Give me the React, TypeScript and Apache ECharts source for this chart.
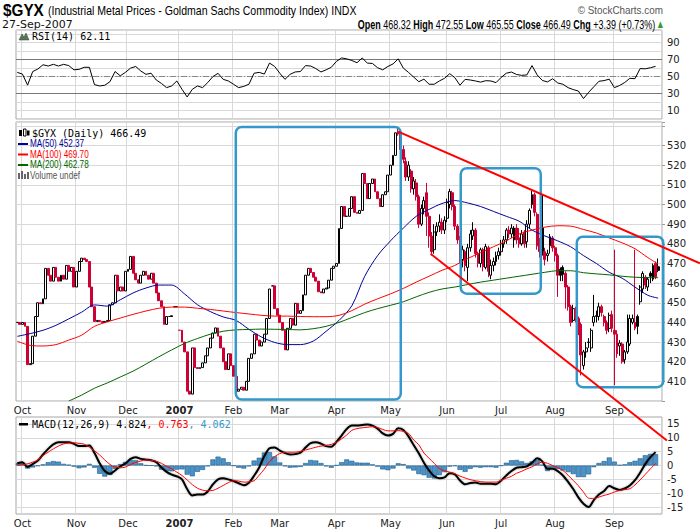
import React, { useEffect, useRef } from "react";
import * as echarts from "echarts";

// ---------------- calendar (trading days per month) ----------------
const MONTH_KEYS = ["2006-09", "2006-10", "2006-11", "2006-12", "2007-01", "2007-02", "2007-03", "2007-04", "2007-05", "2007-06", "2007-07", "2007-08", "2007-09"];
const MONTH_LABELS = ["", "Oct", "Nov", "Dec", "2007", "Feb", "Mar", "Apr", "May", "Jun", "Jul", "Aug", "Sep"];
const MONTH_DAYS = [2, 21, 20, 20, 21, 18, 22, 21, 22, 21, 21, 23, 18];

// ---------------- price data ----------------
// Early period (index 0..147): bars open at the previous close (step candles)
const CLOSE_EARLY = [
  440, 439, 440, 438, 418.5, 419, 433, 443, 450, 449.5, 452, 467.5, 464, 461, 468, 463, 461, 464, 462, 469, 466, 468, 458,
  466, 471, 472.7, 472, 471, 458, 448, 440.5, 441, 440.5, 440, 440.5, 441, 449, 450, 464, 456, 458, 456, 466,
  467, 473.6, 465, 461.7, 460, 464, 466, 464, 462, 465, 460, 455, 451, 448, 439, 443, 443, 443.4, 448, 448,
  436, 430, 425, 405, 403.5, 427, 417, 416.5, 417, 419.4, 423, 427, 432, 434.6, 437.2, 433, 427, 420, 416, 424, 418,
  412.6, 405, 406, 407, 405.5, 410, 421.7, 424, 434, 431, 428, 430, 434, 442, 457, 458.6, 447, 443.7,
  440, 436, 426, 437, 442, 438.6, 449.7, 444.6, 446, 454, 464, 467.5, 465.4, 463, 461, 455.6, 455, 457, 457.5, 461.5, 467.5, 468.6,
  470, 487.8, 499, 494, 494, 498, 504, 496, 495.5, 497, 515.8, 510.7, 503, 510.7, 513, 506.5, 503, 499, 505, 506.5, 515,
  520, 525, 536.5,
];
// days of the early period drawn as dojis (open = close)
const DOJI_DAYS = [61, 62, 63, 99, 128];

// Late period (index 148..249): full OHLC
const LATE_START = 148;
const LATE_OPEN = [
  537, 536, 528, 522, 514, 517, 508, 511, 504, 490, 498, 506, 494, 484, 477, 486, 489, 491, 487,
  493, 500, 506, 499, 489, 482, 472, 476, 468, 478, 484, 487, 475, 470, 477, 468, 478, 464, 469, 471, 474,
  476, 480, 482, 487, 485, 482, 488, 483, 480, 486, 481, 490, 500, 505, 495, 481, 488, 476, 474, 479, 483,
  478, 474, 467, 468, 465, 458, 448, 441, 447, 442, 439, 418, 425, 430, 427, 440, 443, 443, 448, 443, 440, 437, 444,
  436, 434, 428, 429, 421, 425, 429, 440, 440, 443, 450.5, 457, 463, 458, 465, 462, 470, 468.32,
];
const LATE_CLOSE = [
  536, 528, 523, 514, 520, 508, 512, 504, 490, 498, 502, 494, 484, 476, 486, 489, 491, 487, 492,
  501, 506.6, 499, 489, 482, 473, 477, 469, 478, 485, 487, 475, 470, 477, 468.5, 478.6, 466, 469, 471, 474, 476,
  480, 482, 487, 485, 488, 488, 482, 480, 485, 480, 490, 497, 505, 496, 479, 476, 476, 472, 475, 483.6, 478,
  474, 464, 464, 464.5, 458, 448, 440, 447, 442, 439, 423.4, 425, 427, 429.8, 436, 443, 443.5, 448, 445, 440, 436, 443.6, 437,
  434, 424, 429.5, 420, 425, 430, 442, 442, 437, 438, 458, 464.9, 459, 462, 463.5, 469, 463.1, 466.49,
];
const LATE_HIGH = [
  539, 537, 530, 524, 522, 518, 514, 513, 505, 500, 504, 511, 496, 486, 490, 491, 495, 493, 494,
  503, 508, 507, 500, 490, 484, 479, 477, 480, 487, 491, 488, 476, 478, 478, 480, 479, 472, 473, 476, 478,
  482, 484, 488, 489, 490, 489, 490, 488, 487, 487, 492, 498, 507, 506, 496, 483, 505, 478, 477, 485, 484,
  479, 475, 468, 469, 466, 459, 449, 449, 448, 443, 440, 426, 430, 432, 437, 454, 446, 450, 449, 444, 441, 445, 446,
  477, 436, 431, 430, 426, 444, 444, 444, 477, 444, 459, 466, 464, 463, 466, 470, 471, 472.55,
];
const LATE_LOW = [
  535, 526, 521, 512, 512, 506, 505, 502, 488, 489, 495, 484, 478, 474, 475, 484, 486, 485, 485,
  491, 498, 497, 487, 480, 470, 468, 466, 461, 476, 482, 473, 468, 468, 466, 467, 463, 462, 466, 469, 472,
  474, 478, 480, 483, 483, 478, 480, 478, 479, 478, 478, 488, 498, 494, 477, 473, 474, 469, 471, 475, 476,
  471, 453, 461, 461, 447, 446, 438, 440, 440, 433.5, 413, 416, 422, 427, 425, 438, 440, 441, 443, 438, 434, 435, 435,
  408, 422, 423, 419, 419, 424, 428, 439, 436, 434, 449, 455, 457, 456, 460, 461, 462, 465.55,
];

// ---------------- moving averages (every 5th trading day, last = final day) ----------------
const MA_STEP = 5;
const MA50 = [432.9, 434.3, 436, 438.5, 441.8, 445.2, 448.9, 448.3, 451.5, 455, 457.5, 459, 459, 454.5, 449, 445.5, 442.8, 441, 436.5, 432.5, 429.8, 428.7, 428.7, 430.5, 435.5, 441, 448.5, 463.5, 474, 481.5, 488, 494, 497.5, 500.5, 502, 500.8, 499, 496.5, 494, 491.5, 487, 484, 481.5, 478.5, 474, 470, 465.5, 462.5, 458, 453.8, 452.37];
const MA100 = [430.4, 428.3, 428, 428.7, 431, 433.5, 438, 440.3, 442.2, 444.1, 445.8, 447.2, 447.8, 447.8, 447.2, 446.6, 445.8, 445, 444.3, 443.6, 443.2, 443.2, 443, 442.9, 442.9, 443.6, 446, 449.3, 452, 454.5, 457.3, 460.5, 463.5, 466.5, 469, 472.5, 475.5, 478.5, 481.5, 485, 487, 488.5, 489.2, 489, 487.3, 485.5, 483, 480.5, 477.5, 473, 469.7];
const MA200 = [null, null, null, null, 400, 403, 406.5, 409.2, 412.2, 415.2, 418.8, 422.5, 426, 429.3, 431.8, 434, 435.5, 436.2, 436.4, 436.6, 436.5, 436.4, 436.2, 436.8, 438, 440, 442.5, 445, 447, 448.7, 450.5, 453, 455.3, 457, 458, 459.3, 460.5, 461.5, 462.5, 463.5, 464.5, 465.5, 466.3, 466.3, 465.3, 464.7, 464.2, 463.5, 463, 462.8, 462.78];

// ---------------- RSI(14), every 2nd trading day ----------------
const IND_STEP = 2;
const RSI = [
  55, 53, 40, 56, 59, 64, 62.5, 64.5, 62.5, 64.5, 63, 58, 58.6, 61, 61, 40.5, 39, 39.8, 44, 56,
  51, 55, 60, 62, 56.6, 52.7, 54, 46, 42, 37, 39, 44.9, 35, 26, 35, 39, 37, 43, 50, 53.9,
  46.8, 44.9, 41, 37, 38.5, 41, 54, 55, 53, 66, 62, 54, 46.8, 52.7, 55.5, 56, 63, 62.5, 59.5, 55.5,
  58, 61, 68, 72, 71, 69, 66.4, 72, 66, 65.5, 60.5, 58, 62, 65, 71, 60, 55, 49.5, 44, 47,
  41, 41, 44.9, 48, 53.5, 48.8, 39.8, 46.8, 46, 44.9, 43.5, 45.2, 44.9, 42.9, 49, 54, 55.4, 52.5, 51.5, 52,
  63, 52, 45.5, 43.7, 47.5, 42.5, 41, 37, 34.7, 33, 24.1, 31.5, 38, 44.5, 45.3, 47, 37, 39.5, 43, 48,
  47.6, 59.5, 59.2, 60.5, 62.1,
];

// ---------------- MACD(12,26,9), every 2nd trading day ----------------
const MACD = [
  0.8, 1.2, -0.5, 0.5, 1.8, 4, 6, 7.6, 8.4, 8.4, 8.4, 7.8, 7, 7, 7.2, 4.5, 0.8, -2, -3, -1.8,
  -0.3, 0.7, 2.4, 3, 2.4, 2.1, 1.9, 1.2, -0.7, -2.3, -3.3, -3.9, -5, -8.5, -10.8, -10.5, -10.5, -9.4, -6.8, -5,
  -4.6, -5, -5.6, -6.4, -7.1, -6.2, -3.7, -0.7, 3.4, 6.2, 6.5, 5.4, 4.5, 4, 4.1, 4.6, 6.5, 8.1, 8.4, 7.9,
  7, 6.8, 8.5, 10.8, 13.2, 14.4, 14.4, 14.6, 14.8, 14.4, 13.3, 11.6, 10.8, 11.4, 13.4, 12.8, 10.5, 7.4, 4.4, 1,
  -1.8, -3.9, -4.6, -4.3, -2.8, -3.2, -5.4, -6.8, -6.3, -6.1, -6.6, -6.6, -6.6, -6.8, -5.4, -3.6, -2, -0.8, -0.6, -0.3,
  1, 2.6, 1.5, -1.2, -1.2, -2, -3.6, -5.9, -8.5, -11.5, -13.8, -15, -12.5, -10.5, -9.2, -7.4, -8.2, -8.8, -8.3, -7.2,
  -5.3, -2.6, 0.5, 3, 4.824,
];
const SIGNAL = [
  0, 0.3, 0.6, 1.2, 2, 3.6, 4.8, 6, 7, 7.8, 8.1, 8.2, 8, 7.7, 6.6, 5.3, 3.8, 2, 0.4, -0.6,
  -0.8, -0.6, 0.4, 1.1, 1.6, 2, 1.9, 1.5, 0.8, -0.3, -1.2, -2.4, -3.6, -5.2, -6.9, -8.2, -8.9, -9.1, -9, -8.2,
  -7.2, -6.2, -5.5, -5.6, -6, -5.9, -5.5, -3.5, -1.3, 1.4, 3.2, 4.3, 4.8, 4.8, 4.8, 5.1, 5.6, 6.1, 6.6, 7,
  7.3, 7.6, 8.4, 9.6, 11, 12.7, 13.3, 13.6, 13.8, 14, 13.7, 13, 12.5, 12.5, 12.6, 12.3, 11.6, 9.2, 7.5, 4.5,
  2.6, 0.8, -1.1, -1.9, -2.4, -3, -3.8, -4.5, -5.1, -5.5, -5.8, -6, -6, -6, -5.3, -4.6, -3.9, -2.8, -2.1, -1.2,
  -0.5, 0.6, 1.2, 0.8, 0, -0.8, -1.8, -3.5, -5.4, -7.3, -9.6, -11.8, -11.9, -11.4, -10.8, -10.3, -9.6, -9, -8.7, -8.4,
  -7, -5.2, -3.2, -1.2, 0.763,
];

// ---------------- annotations (data coordinates: day index, price) ----------------
const BOXES = [
  [84.9, 149.0, 539.5, 400.7],
  [172.3, 203.4, 518.5, 454.6],
  [217.4, 251.0, 483.6, 407.0],
];
const TRENDS = [
  [148, 537.1, 265.2, 470.1],
  [160.6, 474.9, 252.4, 379.9],
];

// ---------------- styles ----------------
const RED = "#cc0033";
const BLACK = "#000000";
const DV = "DejaVu Sans";
const MONO = "DejaVu Sans Mono";
const SANS = "Liberation Sans";
const GRID_LINE = "#d9d9d9";

export default function App() {
  const ref = useRef<HTMLDivElement>(null);

  useEffect(() => {
    const chart = echarts.init(ref.current!, null, { renderer: "svg" });

    // categories
    const categories: string[] = [];
    const labelAt: Record<number, string> = {};
    MONTH_DAYS.forEach((n, m) => {
      if (MONTH_LABELS[m]) labelAt[categories.length] = MONTH_LABELS[m];
      for (let d = 0; d < n; d++) categories.push(MONTH_KEYS[m] + "-" + (d + 1));
    });
    const nDays = categories.length;
    categories.push("pad");
    const N = categories.length;
    const isMonth = (i: number) => !!labelAt[i];

    // candles
    const closes: number[] = [];
    const candles: any[] = [];
    for (let i = 0; i < nDays; i++) {
      let o: number, c: number, h: number, l: number;
      if (i < LATE_START) {
        c = CLOSE_EARLY[i];
        o = i === 0 || DOJI_DAYS.includes(i) ? c : CLOSE_EARLY[i - 1];
        h = Math.max(o, c);
        l = Math.min(o, c);
      } else {
        const k = i - LATE_START;
        o = LATE_OPEN[k];
        c = LATE_CLOSE[k];
        h = LATE_HIGH[k];
        l = LATE_LOW[k];
      }
      const prev = i === 0 ? c : closes[i - 1];
      closes.push(c);
      const col = c < prev ? RED : BLACK;
      const fill = c > o ? "#ffffff" : col;
      candles.push({
        value: [o, c, l, h],
        itemStyle: { color: fill, color0: fill, borderColor: col, borderColor0: col, borderColorDoji: col },
      });
    }

    const sparse = (vals: (number | null)[], step: number) => {
      const out: (number | null)[] = new Array(N).fill(null);
      vals.forEach((v, k) => {
        const idx = Math.min(k * step, nDays - 1);
        out[idx] = v;
      });
      return out;
    };
    const ma50 = sparse(MA50, MA_STEP);
    const ma100 = sparse(MA100, MA_STEP);
    const ma200 = sparse(MA200, MA_STEP);
    const rsi = sparse(RSI, IND_STEP);
    const macd = sparse(MACD, IND_STEP);
    const signal = sparse(SIGNAL, IND_STEP);
    const hist: (number | null)[] = new Array(N).fill(null);
    MACD.forEach((m, k) => {
      hist[k * IND_STEP] = +(m - SIGNAL[k]).toFixed(3);
    });

    const gridBase = { show: true, borderColor: "#a6a6a6", borderWidth: 1, backgroundColor: "transparent", containLabel: false, outerBoundsMode: "none" };
    const xAxis = (gi: number, showLabel: boolean) => ({
      type: "category",
      gridIndex: gi,
      data: categories,
      boundaryGap: true,
      axisLine: { show: false },
      axisTick: { show: false },
      axisLabel: {
        show: showLabel,
        interval: (i: number) => isMonth(i),
        formatter: (_v: string, i: number) => (labelAt[i] === "2007" ? "{b|2007}" : labelAt[i] || ""),
        color: "#222",
        fontFamily: DV,
        fontSize: 10,
        margin: 4,
        rich: { b: { fontWeight: "bold", fontFamily: DV, fontSize: 10, color: "#222" } },
      },
      splitLine: { show: true, interval: (i: number) => isMonth(i), lineStyle: { color: GRID_LINE, width: 1 } },
    });
    const yLabel = { color: "#222", fontFamily: DV, fontSize: 10, margin: 5 };

    const lineSeries = (name: string, data: any[], color: string, xi: number, extra: any = {}) => ({
      name,
      type: "line",
      xAxisIndex: xi,
      yAxisIndex: xi,
      data,
      connectNulls: true,
      showSymbol: false,
      symbol: "none",
      silent: true,
      lineStyle: { color, width: 1 },
      ...extra,
    });

    const option: any = {
      animation: false,
      backgroundColor: "#ffffff",
      grid: [
        { ...gridBase, left: 16, top: 30, width: 646, height: 89 },
        { ...gridBase, left: 16, top: 122, width: 646, height: 279 },
        { ...gridBase, left: 16, top: 417, width: 646, height: 97 },
      ],
      xAxis: [xAxis(0, false), xAxis(1, true), xAxis(2, true)],
      yAxis: [
        {
          type: "value", gridIndex: 0, position: "right", min: 0, max: 105, interval: 10,
          axisLine: { show: false }, axisTick: { show: false },
          axisLabel: { ...yLabel, formatter: (v: number) => ([10, 30, 50, 70, 90].includes(v) ? String(v) : "") },
          splitLine: { show: true, lineStyle: { color: GRID_LINE } },
        },
        {
          type: "value", gridIndex: 1, position: "right", min: 400, max: 542, interval: 10,
          axisLine: { show: false }, axisTick: { show: true, length: 3, lineStyle: { color: "#999" } },
          axisLabel: { ...yLabel, formatter: (v: number) => (v >= 410 && v <= 530 ? String(v) : "") },
          splitLine: { show: true, lineStyle: { color: GRID_LINE } },
        },
        {
          type: "value", gridIndex: 2, position: "right", min: -17.5, max: 17.5, interval: 2.5,
          axisLine: { show: false }, axisTick: { show: false },
          axisLabel: { ...yLabel, formatter: (v: number) => (Math.abs(v) <= 15 && v % 5 === 0 ? String(v) : "") },
          splitLine: { show: false },
        },
      ],
      series: [
        lineSeries("RSI", rsi, "#000", 0, {
          markLine: {
            silent: true, symbol: "none", z: 1, label: { show: false },
            data: [
              { yAxis: 70, lineStyle: { color: "#777", type: "solid", width: 1 } },
              { yAxis: 30, lineStyle: { color: "#777", type: "solid", width: 1 } },
              { yAxis: 50, lineStyle: { color: "#888", type: [6, 2, 1, 2], width: 1 } },
            ],
          },
        }),
        {
          name: "GYX", type: "candlestick", xAxisIndex: 1, yAxisIndex: 1, data: candles,
          barWidth: 2.4, silent: true,
          itemStyle: { borderWidth: 1 },
        },
        lineSeries("MA50", ma50, "#000099", 1, { smooth: 0.3 }),
        lineSeries("MA100", ma100, "#ff0000", 1, { smooth: 0.3 }),
        lineSeries("MA200", ma200, "#006600", 1, { smooth: 0.3 }),
        {
          name: "Hist", type: "bar", xAxisIndex: 2, yAxisIndex: 2, data: hist, barWidth: 5, silent: true,
          itemStyle: { color: "#4b93c9", borderColor: "#1f5d8c", borderWidth: 0.6 },
          markLine: {
            silent: true, symbol: "none", z: 1, label: { show: false },
            lineStyle: { color: GRID_LINE, type: "solid", width: 1 },
            data: [-15, -10, -5, 0, 5, 10, 15].map((v) => ({ yAxis: v })),
          },
        },
        lineSeries("MACD", macd, "#000", 2, {
          smooth: 0.3,
          lineStyle: { color: "#000", width: 2, shadowColor: "rgba(0,0,0,0.35)", shadowBlur: 2 },
        }),
        lineSeries("Signal", signal, "#ff0000", 2, { smooth: 0.3 }),
      ],
    };

    chart.setOption(option);

    // ---------- graphics ----------
    const pA = chart.convertToPixel({ gridIndex: 1 }, [0, 500]) as number[];
    const pB = chart.convertToPixel({ gridIndex: 1 }, [200, 400]) as number[];
    const dx = (pB[0] - pA[0]) / 200;
    const X = (i: number) => pA[0] + i * dx;
    const Y = (v: number) => (chart.convertToPixel({ gridIndex: 1 }, [0, v]) as number[])[1];

    const txt = (x: number, y: number, text: string, o: any = {}, el: any = {}) => ({
      type: "text", x, y, silent: true, z: 50, ...el,
      style: { text, fill: o.fill || "#000", fontSize: o.fontSize || 11, fontFamily: o.fontFamily || SANS, fontWeight: o.fontWeight || "normal", align: o.align || "left", verticalAlign: o.verticalAlign || "middle", rich: o.rich },
    });

    const graphics: any[] = [
      // header line 1
      txt(3, 10, "$GYX", { fontSize: 17, fontWeight: "bold", fontFamily: SANS }, { scaleX: 0.9 }),
      txt(48, 10.5, "(Industrial Metal Prices - Goldman Sachs Commodity Index) INDX", { fontSize: 12, fontFamily: SANS }, { scaleX: 0.88 }),
      txt(663, 10, "© StockCharts.com", { fontSize: 11, fontFamily: SANS, fill: "#555", align: "right" }, { scaleX: 0.9 }),
      // header line 2
      txt(2, 24, "27-Sep-2007", { fontSize: 11, fontFamily: DV, fill: "#111" }),
      txt(663, 24,
        "{b|Open} 468.32 {b|High} 472.55 {b|Low} 465.55 {b|Close} 466.49 {b|Chg} +3.39 (+0.73%) {g|▲}",
        { fontSize: 12, fontFamily: SANS, align: "right", rich: { b: { fontWeight: "bold", fontSize: 12, fontFamily: SANS }, g: { fill: "#339933", fontSize: 9, fontFamily: DV } } },
        { scaleX: 0.75 }),
      // RSI legend
      { type: "polygon", silent: true, z: 50, shape: { points: [[19, 40], [22, 34], [24, 37], [26, 33], [29, 40]] }, style: { fill: "#557755", stroke: "#334433", lineWidth: 0.5 } },
      txt(32, 36.5, "RSI(14) 62.11", { fontSize: 10, fontFamily: MONO }),
      // main legend
      { type: "rect", silent: true, z: 50, shape: { x: 19, y: 130, width: 3, height: 6 }, style: { fill: "#000" } },
      { type: "rect", silent: true, z: 50, shape: { x: 23.5, y: 129, width: 2.5, height: 7 }, style: { fill: "#fff", stroke: "#000", lineWidth: 1 } },
      { type: "rect", silent: true, z: 50, shape: { x: 27, y: 130.5, width: 2.5, height: 5 }, style: { fill: "#000" } },
      txt(32, 133.5, "$GYX (Daily) 466.49", { fontSize: 10, fontFamily: MONO }),
      { type: "rect", silent: true, z: 50, shape: { x: 18, y: 143, width: 10, height: 2 }, style: { fill: "#000099" } },
      txt(30, 144, "MA(50) 452.37", { fontSize: 10, fill: "#000099" }, { scaleX: 0.82 }),
      { type: "rect", silent: true, z: 50, shape: { x: 18, y: 153.5, width: 10, height: 2 }, style: { fill: "#ff0000" } },
      txt(30, 154.5, "MA(100) 469.70", { fontSize: 10, fill: "#ff0000" }, { scaleX: 0.82 }),
      { type: "rect", silent: true, z: 50, shape: { x: 18, y: 164, width: 10, height: 2 }, style: { fill: "#006600" } },
      txt(30, 165, "MA(200) 462.78", { fontSize: 10, fill: "#006600" }, { scaleX: 0.82 }),
      { type: "rect", silent: true, z: 50, shape: { x: 18, y: 173, width: 2, height: 6 }, style: { fill: "#666" } },
      { type: "rect", silent: true, z: 50, shape: { x: 21, y: 171, width: 2, height: 8 }, style: { fill: "#666" } },
      { type: "rect", silent: true, z: 50, shape: { x: 24, y: 174, width: 2, height: 5 }, style: { fill: "#666" } },
      { type: "rect", silent: true, z: 50, shape: { x: 27, y: 172, width: 2, height: 7 }, style: { fill: "#666" } },
      txt(30, 175.5, "Volume undef", { fontSize: 10, fill: "#555" }, { scaleX: 0.82 }),
      // MACD legend
      { type: "rect", silent: true, z: 50, shape: { x: 19, y: 423, width: 9, height: 2.5 }, style: { fill: "#000" } },
      txt(32, 424.5, "{k|MACD(12,26,9) 4.824}{r|, 0.763}{c|, 4.062}", {
        fontSize: 10, fontFamily: MONO,
        rich: { k: { fill: "#000", fontFamily: MONO, fontSize: 10 }, r: { fill: "#ff0000", fontFamily: MONO, fontSize: 10 }, c: { fill: "#3399cc", fontFamily: MONO, fontSize: 10 } },
      }),
    ];

    BOXES.forEach(([i0, i1, p0, p1]) => {
      const x0 = X(i0), x1 = X(i1), y0 = Y(p0), y1 = Y(p1);
      graphics.push({
        type: "rect", silent: true, z: 60,
        shape: { x: x0, y: y0, width: x1 - x0, height: y1 - y0, r: 6 },
        style: { fill: "none", stroke: "#3399cc", lineWidth: 2.5 },
      });
    });
    TRENDS.forEach(([i0, p0, i1, p1]) => {
      graphics.push({
        type: "line", silent: true, z: 61,
        shape: { x1: X(i0), y1: Y(p0), x2: X(i1), y2: Y(p1) },
        style: { stroke: "#ff0000", lineWidth: 2 },
      });
    });

    chart.setOption({ graphic: graphics });

    return () => chart.dispose();
  }, []);

  return <div ref={ref} style={{ position: "fixed", left: 0, top: 0, width: 700, height: 530 }} />;
}
